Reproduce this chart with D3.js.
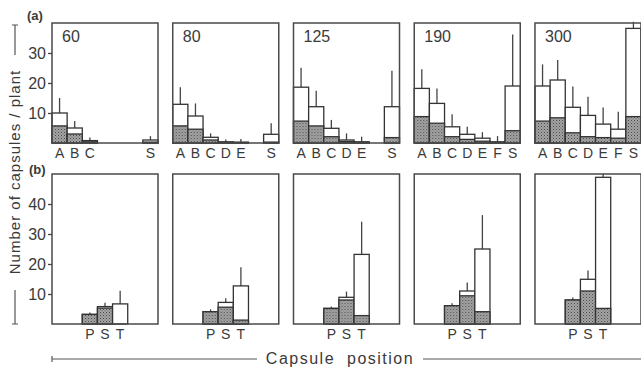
<!DOCTYPE html>
<html lang="en">
<head>
    <meta charset="UTF-8">
    <title>Capsules per plant</title>
    <style>
        body { margin: 0; background: #fff; }
        text {
            font-family: "Liberation Sans", Arial, sans-serif;
            fill: #3a3a3a;
        }
    </style>
</head>
<body>
    <div id="chart"></div>
    <script src="https://d3js.org/d3.v7.min.js"></script>
    <script>

        // panel doses
        var doses = [60, 80, 125, 190, 300];

        // (a) capsule positions
        var posA = ["A", "B", "C", "D", "E", "F", "S"];
        var aLabels = [
            ["A", "B", "C", "S"],
            ["A", "B", "C", "D", "E", "S"],
            ["A", "B", "C", "D", "E", "S"],
            ["A", "B", "C", "D", "E", "F", "S"],
            ["A", "B", "C", "D", "E", "F", "S"]
        ];
        // shaded part, total height, top of error line (null = no bar)
        var aShaded = [
            [5.7, 3.0, 0.4, null, null, null, 0.3],
            [5.7, 4.6, 1.0, 0.2, 0.1, null, 0.3],
            [7.3, 5.7, 2.1, 0.5, 0.2, null, 1.8],
            [8.8, 6.6, 2.1, 1.2, 0.6, 0.2, 4.1],
            [7.3, 8.4, 3.4, 2.1, 1.8, 1.6, 8.8]
        ];
        var aTotal = [
            [10, 5, 0.8, null, null, null, 1],
            [12.9, 9, 1.9, 0.4, 0.3, null, 2.9],
            [18.6, 12.1, 4.9, 1, 0.4, null, 12.1],
            [18.2, 13.2, 5.4, 2.9, 1.6, 0.4, 19],
            [19, 21, 11.9, 9.2, 6.3, 4.6, 38.2]
        ];
        var aUpper = [
            [15, 7.3, 1.8, null, null, null, 2.3],
            [18.6, 13.2, 3.2, 1.2, 1.3, null, 6.6],
            [25.1, 17.4, 7.7, 3.2, 2.1, null, 24.1],
            [24.6, 18.2, 9.6, 5.4, 3.6, 2.3, 36.2],
            [26.2, 27.7, 18.8, 15.4, 11.8, 10.4, 40.4]
        ];

        // (b) positions
        var posB = ["P", "S", "T"];
        var bShaded = [
            [3.2, 5.3, 0],
            [4.1, 5.6, 1.3],
            [5.2, 8.0, 2.8],
            [6.1, 9.4, 4.1],
            [8.0, 11.0, 5.2]
        ];
        var bTotal = [
            [3.2, 5.8, 6.7],
            [4.1, 7.2, 12.7],
            [5.2, 8.9, 23.2],
            [6.1, 11.0, 25.0],
            [8.0, 14.9, 48.9]
        ];
        var bUpper = [
            [3.8, 7.1, 11.1],
            [4.9, 8.6, 18.9],
            [5.8, 10.8, 34.1],
            [6.9, 13.8, 36.3],
            [8.8, 17.8, 50.2]
        ];

        var ticksA = [10, 20, 30];
        var ticksB = [10, 20, 30, 40];

        var width = 641, height = 369;

        var svg = d3.select("#chart").append("svg")
            .attr("width", width)
            .attr("height", height);

        // stippled grey fill
        var pat = svg.append("defs").append("pattern")
            .attr("id", "stip")
            .attr("width", 3).attr("height", 3)
            .attr("patternUnits", "userSpaceOnUse");
        pat.append("rect").attr("width", 3).attr("height", 3).attr("fill", "#a4a4a4");
        pat.append("rect").attr("width", 1).attr("height", 1).attr("fill", "#4a4a4a");
        pat.append("rect").attr("x", 1.5).attr("y", 1.5).attr("width", 1).attr("height", 1).attr("fill", "#6a6a6a");

        var panelX = d3.scaleBand()
            .domain(doses)
            .range([52, 641])
            .paddingInner(0.122)
            .paddingOuter(0);

        var pw = panelX.bandwidth();

        var xa = d3.scaleBand().domain(posA).range([0, pw]);
        var xb = d3.scaleBand().domain(posB).range([pw * 2 / 7, pw * 5 / 7]);

        var yA = d3.scaleLinear().domain([0, 40]).range([143, 23]);
        var yB = d3.scaleLinear().domain([0, 50]).range([324, 174]);

        function drawRow(y, pos, xs, labels, shaded, total, upper, labelY) {
            doses.forEach(function(dose, i) {
                var g = svg.append("g")
                    .attr("transform", "translate(" + panelX(dose) + ",0)");

                pos.forEach(function(p, j) {
                    if (total[i][j] == null) return;
                    var x0 = xs(p), bw = xs.bandwidth();
                    var s = shaded[i][j], t = total[i][j], u = upper[i][j];
                    // error line
                    if (u != null && u > t) {
                        g.append("line")
                            .attr("x1", x0 + bw / 2).attr("x2", x0 + bw / 2)
                            .attr("y1", y(t)).attr("y2", y(u))
                            .attr("stroke", "#444").attr("stroke-width", 1.3);
                    }
                    // white (total) part
                    g.append("rect")
                        .attr("x", x0).attr("width", bw)
                        .attr("y", y(t)).attr("height", y(0) - y(t))
                        .attr("fill", "#fff")
                        .attr("stroke", "#333").attr("stroke-width", 1.3);
                    // shaded part
                    if (s > 0) {
                        g.append("rect")
                            .attr("x", x0).attr("width", bw)
                            .attr("y", y(s)).attr("height", y(0) - y(s))
                            .attr("fill", "url(#stip)")
                            .attr("stroke", "#333").attr("stroke-width", 1.3);
                    }
                });

                // frame
                g.append("rect")
                    .attr("x", 0).attr("y", y.range()[1])
                    .attr("width", pw).attr("height", y.range()[0] - y.range()[1])
                    .attr("fill", "none")
                    .attr("stroke", "#4a4a4a").attr("stroke-width", 1.5);

                // position labels
                g.selectAll("text.pos")
                    .data(labels ? labels[i] : pos)
                    .enter().append("text")
                    .attr("class", "pos")
                    .attr("x", function(d) { return xs(d) + xs.bandwidth() / 2; })
                    .attr("y", labelY)
                    .attr("text-anchor", "middle")
                    .style("font-size", "14px")
                    .text(function(d) { return d; });
            });
        }

        drawRow(yA, posA, xa, aLabels, aShaded, aTotal, aUpper, 158);
        drawRow(yB, posB, xb, null, bShaded, bTotal, bUpper, 339);

        // dose numbers in (a)
        svg.selectAll("text.dose")
            .data(doses)
            .enter().append("text")
            .attr("class", "dose")
            .attr("x", function(d) { return panelX(d) + 10; })
            .attr("y", 42)
            .style("font-size", "16px")
            .text(function(d) { return d; });

        // y axes on first panels
        var axA = svg.append("g")
            .attr("transform", "translate(52,0)")
            .call(d3.axisLeft(yA).tickValues(ticksA).tickSize(4).tickPadding(2));
        var axB = svg.append("g")
            .attr("transform", "translate(52,0)")
            .call(d3.axisLeft(yB).tickValues(ticksB).tickSize(4).tickPadding(2));
        [axA, axB].forEach(function(ax) {
            ax.select(".domain").remove();
            ax.selectAll("line").attr("stroke", "#444").attr("stroke-width", 1.3);
            ax.selectAll("text")
                .attr("fill", "#3a3a3a")
                .style("font-family", "'Liberation Sans', Arial, sans-serif")
                .style("font-size", "16px");
        });

        svg.append("text").attr("x", 27).attr("y", 20)
            .style("font-size", "13px").style("font-weight", "bold").text("(a)");
        svg.append("text").attr("x", 29).attr("y", 174)
            .style("font-size", "13px").style("font-weight", "bold").text("(b)");

        // y label with leader lines
        var lineCol = "#555";
        svg.append("text")
            .attr("transform", "translate(20,172) rotate(-90)")
            .attr("text-anchor", "middle")
            .style("font-size", "15px")
            .style("letter-spacing", "1px")
            .text("Number of capsules / plant");
        svg.append("path")
            .attr("d", "M12,25H18M15,25V55M15,290V324M12,324H18")
            .attr("fill", "none").attr("stroke", lineCol).attr("stroke-width", 1.2);

        // x label with leader lines
        svg.append("text")
            .attr("x", 340).attr("y", 364)
            .attr("text-anchor", "middle")
            .style("font-size", "16px")
            .style("letter-spacing", "1.5px")
            .style("word-spacing", "6px")
            .text("Capsule position");
        svg.append("path")
            .attr("d", "M52,356V362M52,359H257M423,359H641")
            .attr("fill", "none").attr("stroke", lineCol).attr("stroke-width", 1.2);

    </script>
</body>
</html>
